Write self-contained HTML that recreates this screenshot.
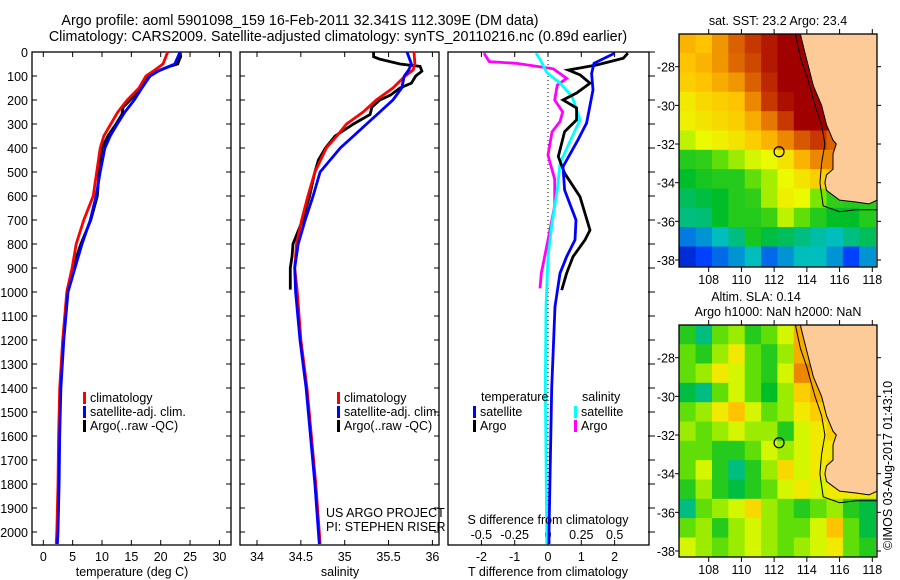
<!DOCTYPE html>
<html><head><meta charset="utf-8"><style>
html,body{margin:0;padding:0;background:#fff;}
svg{display:block;font-family:"Liberation Sans",sans-serif;}
text{font-size:12.5px;fill:#000;}
</style></head><body>
<svg id="fig" width="900" height="580" viewBox="0 0 900 580">
<text x="300" y="25" text-anchor="middle" style="font-size:14.3px">Argo profile: aoml 5901098_159 16-Feb-2011 32.341S 112.309E (DM data)</text>
<text x="338" y="41" text-anchor="middle" style="font-size:14.3px">Climatology: CARS2009. Satellite-adjusted climatology: synTS_20110216.nc (0.89d earlier)</text>
<g id="g1"></g>
<g id="g2"></g>
<g id="g3"></g>
<g id="m1"></g>
<g id="m2"></g>
<text transform="translate(892,550) rotate(-90)">©IMOS 03-Aug-2017 01:43:10</text>
</svg>
<script>
// ---- profile data ----
const depthTicks=[0,100,200,300,400,500,600,700,800,900,1000,1100,1200,1300,1400,1500,1600,1700,1800,1900,2000];
const tempTicks=[0,5,10,15,20,25,30];
const salTicks=[34,34.5,35,35.5,36];
const tdiffTicks=[-2,-1,0,1,2];
const sdiffTicks=[-0.5,-0.25,0,0.25,0.5];
const climDepth=[0,50,75,100,150,200,250,300,350,400,500,600,700,800,900,1000,1200,1400,1600,1800,2000,2050];
const tempClim=[21.2,20.4,19.0,17.5,16.3,14.3,12.7,11.5,10.3,9.7,9.1,8.5,6.9,5.6,4.9,4.0,3.3,2.8,2.6,2.5,2.3,2.2];
const tempSat=[23.3,22.4,19.9,18.2,16.8,15.5,13.9,12.6,11.4,10.5,9.7,9.0,8.0,6.6,5.4,4.2,3.5,3.0,2.8,2.7,2.5,2.4];
const salClim=[35.79,35.8,35.78,35.69,35.55,35.36,35.21,35.02,34.91,34.79,34.66,34.58,34.51,34.45,34.43,34.46,34.5,34.57,34.62,34.67,34.71,34.72];
const salSat=[35.71,35.76,35.73,35.68,35.65,35.55,35.40,35.25,35.1,34.95,34.72,34.64,34.55,34.47,34.43,34.44,34.49,34.56,34.61,34.66,34.70,34.71];
const argoDepth=[0,20,30,50,60,80,100,130,150,180,200,230,260,300,350,400,450,500,600,700,800,850,900,990];
const tempArgo=[23.3,23.4,23.2,22.9,21.5,19.5,18.0,17.0,16.5,15.6,14.8,13.6,13.4,12.4,11.0,10.0,9.7,9.5,9.2,8.1,6.4,5.7,5.0,4.1];
const salArgo=[35.33,35.33,35.4,35.63,35.86,35.88,35.81,35.76,35.63,35.52,35.40,35.31,35.29,35.1,34.89,34.78,34.7,34.66,34.6,34.52,34.41,34.4,34.38,34.38];
const tdSatDepth=[5,47,90,158,296,366,478,575,700,783,853,922,1061,1400,2000,2050];
const tdSat=[2.0,1.38,1.31,1.35,1.16,0.9,0.45,0.5,0.84,0.81,0.56,0.36,0.21,0.11,0.03,0.03];
const tdArgoDepth=[5,26,54,75,95,130,171,200,233,283,332,436,505,603,742,783,853,922,992];
const tdArgo=[2.4,2.26,1.46,0.61,0.96,1.26,0.86,0.45,0.86,0.86,0.5,0.31,0.5,0.96,1.26,1.11,0.75,0.56,0.41];
const sdArgoDepth=[5,40,47,70,110,138,200,250,290,333,430,530,640,783,922,985];
const sdArgo=[-0.48,-0.44,-0.24,0.04,0.14,0.07,0.05,0.11,0.09,0.03,0.0,0.05,0.05,0.0,-0.05,-0.06];
const sdSatDepth=[5,30,85,130,185,283,366,464,575,714,853,1060,1400,2000,2050];
const sdSat=[-0.09,-0.06,-0.01,0.09,0.18,0.24,0.17,0.09,0.07,0.03,0.0,-0.015,-0.02,-0.01,-0.01];
// ---- map data (rows lat -26.3.., cols lon 106.2.., 1 deg) ----
const sstGrid=[
[0.74,0.72,0.78,0.85,0.9,0.95,1,1,1,1,1,1],
[0.72,0.74,0.78,0.84,0.88,0.95,1,1,1,1,1,1],
[0.7,0.72,0.75,0.78,0.85,0.92,1,1,1,1,1,1],
[0.65,0.68,0.7,0.72,0.8,0.9,0.97,1,1,1,1,1],
[0.64,0.66,0.68,0.7,0.75,0.82,0.9,1,1,1,1,1],
[0.58,0.62,0.64,0.66,0.7,0.74,0.8,0.86,0.9,0.85,0.85,0.85],
[0.45,0.46,0.5,0.55,0.6,0.62,0.66,0.74,0.8,0.8,0.8,0.8],
[0.42,0.44,0.45,0.45,0.5,0.56,0.62,0.66,0.7,0.72,0.7,0.7],
[0.38,0.4,0.42,0.45,0.46,0.56,0.64,0.62,0.52,0.46,0.45,0.45],
[0.35,0.36,0.42,0.45,0.45,0.47,0.58,0.5,0.45,0.42,0.42,0.45],
[0.22,0.25,0.3,0.35,0.44,0.4,0.38,0.35,0.32,0.3,0.35,0.38],
[0.1,0.15,0.2,0.25,0.3,0.2,0.25,0.3,0.3,0.25,0.15,0.25]];
const slaGrid=[
[0.45,0.35,0.5,0.55,0.45,0.5,0.6,0.75,0.7,0.7,0.7,0.7],
[0.5,0.45,0.55,0.65,0.5,0.45,0.55,0.75,0.75,0.7,0.7,0.7],
[0.5,0.55,0.65,0.6,0.5,0.45,0.6,0.8,0.75,0.7,0.7,0.7],
[0.4,0.35,0.5,0.6,0.5,0.42,0.55,0.7,0.75,0.7,0.7,0.7],
[0.5,0.55,0.65,0.72,0.6,0.5,0.55,0.65,0.7,0.7,0.7,0.7],
[0.55,0.5,0.55,0.6,0.55,0.55,0.45,0.6,0.65,0.7,0.7,0.7],
[0.5,0.5,0.45,0.45,0.5,0.6,0.55,0.6,0.65,0.65,0.65,0.65],
[0.5,0.6,0.45,0.35,0.45,0.55,0.68,0.6,0.65,0.7,0.65,0.65],
[0.45,0.55,0.45,0.4,0.45,0.5,0.6,0.65,0.6,0.65,0.65,0.65],
[0.35,0.5,0.55,0.6,0.68,0.55,0.5,0.45,0.5,0.55,0.45,0.4],
[0.5,0.55,0.45,0.55,0.6,0.55,0.5,0.5,0.6,0.72,0.5,0.4],
[0.6,0.55,0.5,0.55,0.6,0.55,0.5,0.55,0.6,0.65,0.5,0.45]];
const lonTicks=[108,110,112,114,116,118];
const latTicks=[-28,-30,-32,-34,-36,-38];
const coastLon=[113.6,113.8,114.1,114.4,114.9,115.2,115.6,115.8,115.6,115.6,115.2,115.1,115.2,116,117,117.8,118.3,118.3];
const coastLat=[-26.3,-27,-28,-29,-30,-31,-31.8,-32,-32.5,-33.3,-33.6,-34,-34.4,-34.9,-35,-35.1,-34.9,-26.3];
const isoLon=[113.3,113.6,114,114.5,114.9,115.1,114.9,114.8,115,116,117,118.3];
const isoLat=[-26.3,-27.5,-28.5,-30,-31,-32,-33,-34,-35.2,-35.5,-35.4,-35.4];
const argoPos=[112.3,-32.4];

const NS='http://www.w3.org/2000/svg';
function mk(parent,tag,attrs){const e=document.createElementNS(NS,tag);for(const k in attrs)e.setAttribute(k,attrs[k]);parent.appendChild(e);return e;}
const yD=d=>52+0.24*d;

function frame(g,x0,x1,name){
  const r=mk(g,'rect',{x:x0,y:52,width:x1-x0,height:493,fill:'none',stroke:'#000','stroke-width':1.3});
  
  
  depthTicks.forEach(d=>{
    mk(g,'line',{x1:x0,x2:x0+5,y1:yD(d),y2:yD(d),stroke:'#000'});
    mk(g,'line',{x1:x1-5,x2:x1,y1:yD(d),y2:yD(d),stroke:'#000'});
  });
}
function line(g,xs,ds,sx,color,name,w){
  const p=xs.map((v,i)=>sx(v).toFixed(1)+','+yD(ds[i]).toFixed(1)).join(' ');
  const e=mk(g,'polyline',{points:p,fill:'none',stroke:color,'stroke-width':w||2.8});
  
  
}
function txt(g,x,y,s,anchor,name){
  const t=mk(g,'text',{x:x,y:y,'text-anchor':anchor||'start'});t.textContent=s;
  
  
  return t;
}
function legend(g,x,y,color,label,name){
  mk(g,'rect',{x:x-1,y:y-10,width:3,height:12,fill:color});
  txt(g,x+6,y,label,'start',name);
}

// Panel 1
const g1=document.getElementById('g1');
const xT=t=>43.3+5.87*t;
frame(g1,32,231,'temperature-axes');
depthTicks.forEach(d=>txt(g1,28,yD(d)+5,String(d),'end','depth-tick-label'));
tempTicks.forEach(t=>{mk(g1,'line',{x1:xT(t),x2:xT(t),y1:545,y2:540,stroke:'#000'});mk(g1,'line',{x1:xT(t),x2:xT(t),y1:52,y2:57,stroke:'#000'});txt(g1,xT(t),561,String(t),'middle','temperature-tick-label');});
line(g1,tempArgo,argoDepth,xT,'#000','temperature-argo-line');
line(g1,tempClim,climDepth,xT,'#f00','temperature-climatology-line');
line(g1,tempSat,climDepth,xT,'#00f','temperature-satellite-line');
txt(g1,132,576,'temperature (deg C)','middle','temperature-axis-title');
legend(g1,84,402,'#f00','climatology','legend-climatology');
legend(g1,84,416,'#00f','satellite-adj. clim.','legend-satellite');
legend(g1,84,430,'#000','Argo(..raw -QC)','legend-argo');

// Panel 2
const g2=document.getElementById('g2');
const xS=s=>257+87.7*(s-34);
frame(g2,240,439,'salinity-axes');
salTicks.forEach(s=>{mk(g2,'line',{x1:xS(s),x2:xS(s),y1:545,y2:540,stroke:'#000'});mk(g2,'line',{x1:xS(s),x2:xS(s),y1:52,y2:57,stroke:'#000'});txt(g2,xS(s),561,String(s),'middle','salinity-tick-label');});
line(g2,salArgo,argoDepth,xS,'#000','salinity-argo-line');
line(g2,salClim,climDepth,xS,'#f00','salinity-climatology-line');
line(g2,salSat,climDepth,xS,'#00f','salinity-satellite-line');
txt(g2,340,576,'salinity','middle','salinity-axis-title');
legend(g2,338,402,'#f00','climatology','legend-climatology');
legend(g2,338,416,'#00f','satellite-adj. clim.','legend-satellite');
legend(g2,338,430,'#000','Argo(..raw -QC)','legend-argo');
txt(g2,326,517,'US ARGO PROJECT','start','project-credit');
txt(g2,326,531,'PI: STEPHEN RISER','start','pi-credit');

// Panel 3
const g3=document.getElementById('g3');
const xTd=v=>548+33.3*v, xSd=v=>548+133.3*v;
mk(g3,'rect',{x:448,y:52,width:201,height:493,fill:'none',stroke:'#000','stroke-width':1.3});
mk(g3,'line',{x1:548,x2:548,y1:52,y2:545,stroke:'#000','stroke-dasharray':'1,3'});
tdiffTicks.forEach(t=>{mk(g3,'line',{x1:xTd(t),x2:xTd(t),y1:545,y2:540,stroke:'#000'});mk(g3,'line',{x1:xTd(t),x2:xTd(t),y1:52,y2:57,stroke:'#000'});txt(g3,xTd(t),561,String(t),'middle','tdiff-tick-label');});
sdiffTicks.forEach(s=>txt(g3,xSd(s),539,String(s),'middle','sdiff-tick-label'));
depthTicks.forEach(d=>{mk(g3,'line',{x1:648,x2:655,y1:yD(d),y2:yD(d),stroke:'#000'});});
line(g3,sdArgo,sdArgoDepth,xSd,'#f0f','sdiff-argo-line');
line(g3,sdSat,sdSatDepth,xSd,'#0ff','sdiff-satellite-line');
line(g3,tdArgo,tdArgoDepth,xTd,'#000','tdiff-argo-line');
line(g3,tdSat,tdSatDepth,xTd,'#00f','tdiff-satellite-line');
txt(g3,548,524,'S difference from climatology','middle','sdiff-axis-title');
txt(g3,548,576,'T difference from climatology','middle','tdiff-axis-title');
txt(g3,481,401,'temperature','start','legend-temperature-header');
txt(g3,582,401,'salinity','start','legend-salinity-header');
legend(g3,474,416,'#00f','satellite','legend-t-satellite');
legend(g3,474,430,'#000','Argo','legend-t-argo');
legend(g3,575,416,'#0ff','satellite','legend-s-satellite');
legend(g3,575,430,'#f0f','Argo','legend-s-argo');

// Maps
const stops=[[0,[0,0,140]],[0.15,[0,64,255]],[0.3,[0,190,190]],[0.42,[0,190,40]],[0.52,[120,230,0]],[0.62,[235,250,0]],[0.72,[255,195,0]],[0.82,[230,120,0]],[0.92,[190,40,0]],[1,[160,0,0]]];
function cmap(v){for(let i=1;i<stops.length;i++){if(v<=stops[i][0]){const a=stops[i-1],b=stops[i],f=(v-a[0])/(b[0]-a[0]);return 'rgb('+a[1].map((c,k)=>Math.round(c+f*(b[1][k]-c))).join(',')+')';}}return 'rgb(160,0,0)';}
function drawMap(id,grid,y0,yLat28,name){
  const g=document.getElementById(id);
  const x0=679,x1=877,y1=y0+(id==='m1'?233:232);
  const lx=lon=>708.7+16.36*(lon-108), ly=lat=>yLat28+19.33*(-28-lat);
  const cid='clip'+id;
  const cp=mk(mk(g,'defs',{}),'clipPath',{id:cid});mk(cp,'rect',{x:x0,y:y0,width:x1-x0,height:y1-y0});
  const cg=mk(g,'g',{'clip-path':'url(#'+cid+')'});
  grid.forEach((row,r)=>row.forEach((v,c)=>{
    const lon=106.2+c, lat=-26.3-r;
    const e=mk(cg,'rect',{x:lx(lon).toFixed(1),y:ly(lat).toFixed(1),width:16.9,height:19.9,fill:cmap(v)});
    
    
  }));
  const land=mk(cg,'polygon',{points:coastLon.map((l,i)=>lx(l).toFixed(1)+','+ly(coastLat[i]).toFixed(1)).join(' '),fill:'#fccb98',stroke:'#000','stroke-width':1});
  
  
  mk(cg,'polyline',{points:isoLon.map((l,i)=>lx(l).toFixed(1)+','+ly(isoLat[i]).toFixed(1)).join(' '),fill:'none',stroke:'#000','stroke-width':1});
  const c=mk(g,'circle',{cx:lx(argoPos[0]),cy:ly(argoPos[1]),r:5,fill:'none',stroke:'#000','stroke-width':1.2});
  
  
  mk(g,'rect',{x:x0,y:y0,width:x1-x0,height:y1-y0,fill:'none',stroke:'#000','stroke-width':1.3});
  lonTicks.forEach(l=>{mk(g,'line',{x1:lx(l),x2:lx(l),y1:y1,y2:y1+5,stroke:'#000'});mk(g,'line',{x1:lx(l),x2:lx(l),y1:y0,y2:y0-5,stroke:'#000'});txt(g,lx(l),y1+17,String(l),'middle',name+'-lon-label');});
  latTicks.forEach(l=>{mk(g,'line',{x1:x0,x2:x0-4,y1:ly(l),y2:ly(l),stroke:'#000'});mk(g,'line',{x1:x1,x2:x1+4,y1:ly(l),y2:ly(l),stroke:'#000'});txt(g,675,ly(l)+5,String(l),'end',name+'-lat-label');});
}
drawMap('m1',sstGrid,34,66.7,'sst-map');
drawMap('m2',slaGrid,325,357.7,'sla-map');
const m1=document.getElementById('m1'),m2=document.getElementById('m2');
txt(m1,778,25,'sat. SST: 23.2 Argo: 23.4','middle','sst-map-title');
txt(m2,756,301,'Altim. SLA: 0.14','middle','sla-map-title');
txt(m2,778,316,'Argo h1000: NaN h2000: NaN','middle','sla-map-subtitle');
</script>
</body></html>
